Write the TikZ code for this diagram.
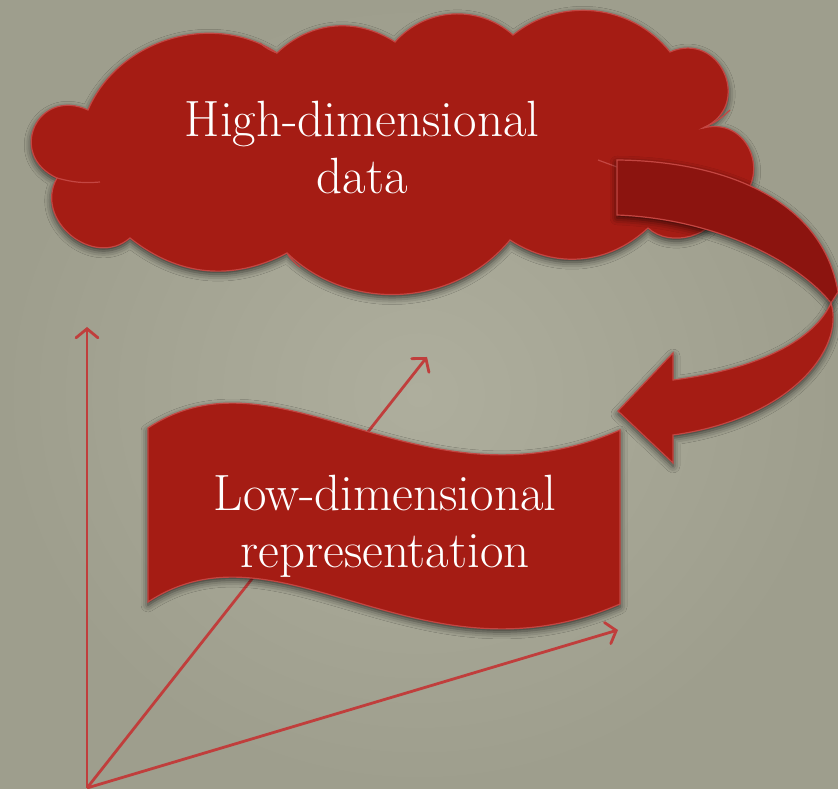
\documentclass[tikz,border=0pt]{standalone}
\usetikzlibrary{arrows.meta,shadows.blur}
\definecolor{bgin}{RGB}{174,174,157}
\definecolor{bgout}{RGB}{158,158,141}
\definecolor{feltred}{RGB}{165,28,20}
\definecolor{darkfelt}{RGB}{140,20,15}
\definecolor{rimred}{RGB}{196,70,66}
\definecolor{axisred}{RGB}{192,62,60}
\begin{document}
\begin{tikzpicture}[x=1pt,y=1pt,
  felt/.style={fill=feltred,draw=rimred,line width=1.2pt,
    blur shadow={shadow xshift=0pt,shadow yshift=-3pt,shadow blur radius=7pt,shadow opacity=70}},
  lobe/.style={draw=rimred,line width=1.2pt},
  axis/.style={axisred,line width=2.8pt,-{Straight Barb[length=9pt,width=22pt,line cap=round]}},
  felttext/.style={text=white,align=center,font=\fontsize{51}{57}\selectfont}]
\useasboundingbox (0,0) rectangle (838,789);
\fill[inner color=bgin,outer color=bgout] (0,0) rectangle (838,789);
\coordinate (o) at (87,1);
\coordinate (e1) at (87,462);
\coordinate (e2) at (427,432);
\coordinate (e3) at (618,159);
\draw[axis] (o)--(e1);
\draw[axis] (o)--(e2);
\draw[axis] (o)--(e3);
\path[felt] (88,679) to[bend left=50] (277,736) to[bend left=38] (395,747)
  to[bend left=45] (513,754) to[bend left=45] (670,737)
  to[bend left=90,looseness=1.7] (703,661) to[bend left=90,looseness=1.7] (723,582)
  to[bend left=58] (648,561) to[bend left=38] (510,549) to[bend left=47] (287,536)
  to[bend left=33] (130,551) to[bend left=80,looseness=1.3] (57,611)
  to[bend left=90,looseness=1.9] (88,679) -- cycle;
\draw[lobe] (57,611) to[bend right=10] (100,607);
\draw[lobe] (277,736) to[bend left=10] (260,746);
\draw[lobe] (287,536) to[bend right=10] (300,522);
\draw[lobe] (703,661) to[bend right=10] (730,679);
\draw[lobe] (598,629) -- (617,622);
\path[felt] (148,361) .. controls (280,448) and (420,272) .. (620,359) -- (620,185)
  .. controls (420,98) and (280,274) .. (148,187) -- cycle;
\path[felt,fill=darkfelt] (617,629) .. controls (720,628) and (822,592) .. (838,497) -- (831,486)
  .. controls (800,525) and (720,570) .. (617,574) -- cycle;
\path[felt] (831,486) .. controls (845,440) and (790,370) .. (673,354) -- (673,326) -- (618,378)
  -- (673,436) -- (673,409) .. controls (760,420) and (815,450) .. (831,486) -- cycle;
\node[felttext] (hd) at (362,641) {High-dimensional\\data};
\node[felttext] (ld) at (385,263) {Low-dimensional\\representation};
\end{tikzpicture}
\end{document}
